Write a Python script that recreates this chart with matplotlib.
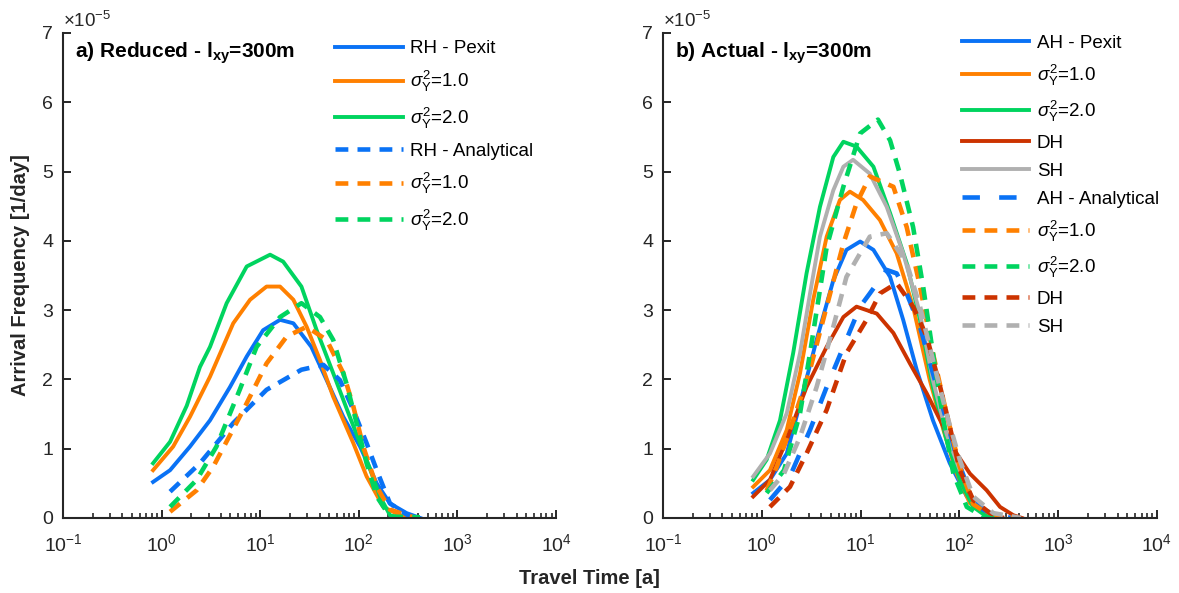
import numpy as np
import matplotlib
matplotlib.use('Agg')
import matplotlib.pyplot as plt
from matplotlib.ticker import LogLocator, NullFormatter, LogFormatterMathtext

plt.rcParams['font.family'] = ['Liberation Sans', 'DejaVu Sans']
plt.rcParams['mathtext.fontset'] = 'custom'
plt.rcParams['mathtext.rm'] = 'Liberation Sans'
plt.rcParams['mathtext.it'] = 'Liberation Sans:italic'
plt.rcParams['mathtext.bf'] = 'Liberation Sans:bold'

# values, frequency in units of 1e-5 1/day, time in years
# ---- panel a) reduced
t_rh_pexit = [0.82, 1.22, 1.94, 3.1, 4.94, 7.3, 10.7, 15.9, 21.7, 33, 47.2, 69.7, 103, 152, 207, 306, 420]
f_rh_pexit = [0.52, 0.69, 1.03, 1.41, 1.89, 2.33, 2.71, 2.86, 2.81, 2.47, 1.99, 1.46, 1.03, 0.50, 0.21, 0.07, 0.0]
t_r_s1 = [0.82, 1.31, 1.94, 3.1, 5.33, 7.9, 11.6, 15.9, 21.7, 29.6, 40.4, 55, 88, 120, 177, 263, 316]
f_r_s1 = [0.69, 1.03, 1.46, 2.04, 2.81, 3.15, 3.34, 3.34, 3.15, 2.76, 2.28, 1.75, 1.08, 0.60, 0.16, 0.04, 0.0]
t_r_s2 = [0.82, 1.22, 1.8, 2.45, 3.1, 4.57, 7.3, 12.6, 17.1, 26.2, 37.4, 55, 81, 120, 164, 207, 263]
f_r_s2 = [0.79, 1.10, 1.62, 2.18, 2.47, 3.10, 3.63, 3.80, 3.70, 3.34, 2.71, 2.09, 1.46, 0.84, 0.31, 0.04, 0.0]
t_rh_ana = [1.22, 2.45, 5.33, 11.6, 26.2, 43.7, 64.4, 88, 120, 152, 207, 306, 380]
f_rh_ana = [0.38, 0.79, 1.37, 1.85, 2.14, 2.21, 1.99, 1.56, 1.08, 0.69, 0.21, 0.05, 0.0]
t_ra_s1 = [1.22, 2.27, 3.34, 6.75, 11.6, 18.6, 29.6, 47.2, 69.7, 88, 111, 152, 207, 357]
f_ra_s1 = [0.09, 0.40, 0.74, 1.56, 2.23, 2.62, 2.76, 2.57, 2.09, 1.61, 1.03, 0.45, 0.12, 0.01]
t_ra_s2 = [1.22, 2.27, 3.6, 6.2, 9.2, 15.9, 26.2, 40.4, 55, 75, 95, 120, 152, 207, 417]
f_ra_s2 = [0.16, 0.55, 1.03, 1.85, 2.47, 2.90, 3.10, 2.90, 2.57, 1.94, 1.37, 0.79, 0.31, 0.02, 0.01]

# ---- panel b) actual
t_ah_pexit = [0.82, 1.21, 1.79, 2.44, 3.59, 5.3, 7.2, 9.9, 13.5, 19.9, 27, 37, 54, 80, 119, 174, 260]
f_ah_pexit = [0.36, 0.55, 0.93, 1.65, 2.57, 3.43, 3.87, 3.99, 3.87, 3.48, 2.86, 2.14, 1.41, 0.79, 0.31, 0.07, 0.0]
t_a_s1 = [0.82, 1.21, 1.79, 2.44, 3.32, 4.54, 6.18, 7.8, 10.6, 15.7, 23.2, 34, 50, 69, 94, 128, 189, 250]
f_a_s1 = [0.45, 0.69, 1.27, 2.09, 3.15, 4.06, 4.59, 4.71, 4.59, 4.30, 3.82, 3.05, 2.00, 1.27, 0.64, 0.21, 0.05, 0.0]
t_a_s2 = [0.82, 1.12, 1.53, 2.08, 2.84, 3.88, 5.3, 6.7, 9.1, 13.5, 19.9, 29.3, 40, 54, 74, 101, 138, 189, 240]
f_a_s2 = [0.55, 0.84, 1.41, 2.38, 3.53, 4.49, 5.21, 5.43, 5.36, 5.07, 4.40, 3.68, 2.86, 1.89, 1.13, 0.55, 0.16, 0.02, 0.0]
t_dh = [0.82, 1.21, 1.79, 2.84, 4.54, 6.7, 9.1, 14.6, 21.5, 31.6, 46.7, 64, 94, 128, 189, 258, 352, 430]
f_dh = [0.31, 0.55, 1.13, 1.89, 2.47, 2.90, 3.05, 2.95, 2.67, 2.23, 1.80, 1.41, 0.93, 0.64, 0.40, 0.16, 0.04, 0.0]
t_sh = [0.82, 1.21, 1.79, 2.44, 3.08, 3.88, 5.3, 6.7, 8.4, 12.4, 18.4, 27, 40, 54, 74, 101, 138, 204, 280]
f_sh = [0.60, 0.93, 1.51, 2.38, 3.24, 4.06, 4.73, 5.07, 5.17, 4.97, 4.49, 3.82, 2.95, 1.99, 1.22, 0.69, 0.26, 0.07, 0.0]
t_ah_ana = [1.21, 1.93, 3.08, 4.54, 6.7, 9.9, 12.4, 18.4, 23.2, 29.3, 40, 54, 74, 94, 128, 174, 258, 350]
f_ah_ana = [0.26, 0.60, 1.27, 1.89, 2.47, 3.05, 3.24, 3.58, 3.53, 3.24, 2.76, 2.09, 1.41, 0.88, 0.36, 0.12, 0.02, 0.0]
t_aa_s1 = [1.12, 1.42, 2.08, 3.08, 4.54, 6.7, 9.1, 12.4, 21.5, 29.3, 40, 54, 74, 101, 138, 204, 363]
f_aa_s1 = [0.39, 0.74, 1.41, 2.14, 3.05, 3.96, 4.54, 4.93, 4.78, 4.20, 3.34, 2.38, 1.51, 0.74, 0.20, 0.04, 0.0]
t_aa_s2 = [1.12, 1.68, 2.44, 3.08, 4.54, 6.7, 9.9, 15, 19.9, 25, 34, 43, 54, 69, 87, 119, 174, 250]
f_aa_s2 = [0.36, 0.69, 1.51, 2.38, 3.91, 4.78, 5.55, 5.75, 5.45, 4.97, 4.20, 3.34, 2.38, 1.41, 0.64, 0.16, 0.02, 0.0]
t_dh_ana = [1.21, 1.93, 2.84, 4.54, 7.2, 11.5, 15.7, 23.2, 34, 46.7, 64, 80, 101, 138, 204, 280]
f_dh_ana = [0.16, 0.45, 0.93, 1.56, 2.38, 2.86, 3.24, 3.39, 3.05, 2.62, 1.89, 1.32, 0.69, 0.26, 0.07, 0.0]
t_sh_ana = [1.21, 1.68, 2.44, 3.59, 5.3, 7.2, 12.4, 18.4, 29.3, 40, 54, 74, 101, 138, 221, 420]
f_sh_ana = [0.40, 0.64, 1.17, 1.89, 2.76, 3.48, 4.06, 4.11, 3.68, 3.05, 2.28, 1.51, 0.84, 0.31, 0.07, 0.0]

blue = '#0a72f5'
orange = '#ff8000'
green = '#00d45f'
red = '#cc3300'
gray = '#b0b0b0'
ink = '#262626'

s1 = r'$\sigma^{2}_{\mathrm{Y}}$=1.0'
s2 = r'$\sigma^{2}_{\mathrm{Y}}$=2.0'
lw = 2.8
lwd = 3.3
dash = (2.8, 2.0)

fig = plt.figure(figsize=(11.79, 5.93), dpi=100)
axA = fig.add_axes([0.0534, 0.1265, 0.4182, 0.8179])
axB = fig.add_axes([0.5623, 0.1265, 0.419, 0.8179])

# panel a
axA.plot(t_rh_pexit, f_rh_pexit, color=blue, lw=lw, label='RH - Pexit')
axA.plot(t_r_s1, f_r_s1, color=orange, lw=lw, label=s1)
axA.plot(t_r_s2, f_r_s2, color=green, lw=lw, label=s2)
axA.plot(t_rh_ana, f_rh_ana, color=blue, lw=lwd, dashes=dash, label='RH - Analytical')
axA.plot(t_ra_s1, f_ra_s1, color=orange, lw=lwd, dashes=dash, label=s1)
axA.plot(t_ra_s2, f_ra_s2, color=green, lw=lwd, dashes=dash, label=s2)

# panel b
axB.plot(t_ah_pexit, f_ah_pexit, color=blue, lw=lw, label='AH - Pexit')
axB.plot(t_a_s1, f_a_s1, color=orange, lw=lw, label=s1)
axB.plot(t_a_s2, f_a_s2, color=green, lw=lw, label=s2)
axB.plot(t_dh, f_dh, color=red, lw=lw, label='DH')
axB.plot(t_sh, f_sh, color=gray, lw=lw, label='SH')
axB.plot(t_ah_ana, f_ah_ana, color=blue, lw=lwd, dashes=(3.8, 4.2), label='AH - Analytical')
axB.plot(t_aa_s1, f_aa_s1, color=orange, lw=lwd, dashes=dash, label=s1)
axB.plot(t_aa_s2, f_aa_s2, color=green, lw=lwd, dashes=dash, label=s2)
axB.plot(t_dh_ana, f_dh_ana, color=red, lw=lwd, dashes=dash, label='DH')
axB.plot(t_sh_ana, f_sh_ana, color=gray, lw=lwd, dashes=dash, label='SH')

titles = [r'a) Reduced - l$_{\mathbf{xy}}$=300m', r'b) Actual - l$_{\mathbf{xy}}$=300m']
legpos = [(0.552, 0.985), (0.605, 0.996)]
legspace = [0.62, 0.58]
for ax, ttl, lp, ls in zip([axA, axB], titles, legpos, legspace):
    ax.set_xscale('log')
    ax.set_xlim(1e-1, 1e4)
    ax.set_ylim(0, 7)
    ax.set_yticks(range(8))
    ax.xaxis.set_major_locator(LogLocator(base=10, numticks=10))
    ax.xaxis.set_minor_locator(LogLocator(base=10, subs=np.arange(2, 10), numticks=50))
    ax.xaxis.set_major_formatter(LogFormatterMathtext())
    ax.xaxis.set_minor_formatter(NullFormatter())
    for s in ['top', 'right']:
        ax.spines[s].set_visible(False)
    for s in ['left', 'bottom']:
        ax.spines[s].set_linewidth(1.5)
        ax.spines[s].set_color(ink)
    ax.tick_params(which='major', direction='in', length=6, width=1.4, color=ink,
                   labelsize=14, labelcolor=ink)
    ax.tick_params(axis='x', which='major', pad=11)
    ax.tick_params(axis='y', which='major', pad=7)
    ax.tick_params(which='minor', direction='in', length=3.6, width=1.2, color=ink)
    ax.text(0.0, 1.005, r'$\times10^{-5}$', transform=ax.transAxes, fontsize=13.5,
            color=ink, ha='left', va='bottom')
    ax.text(0.025, 0.985, ttl, transform=ax.transAxes, fontsize=15,
            fontweight='bold', ha='left', va='top')
    ax.legend(loc='upper left', bbox_to_anchor=lp, frameon=False,
              fontsize=13.5, handlelength=3.6, handletextpad=0.4,
              labelspacing=ls, borderpad=0, borderaxespad=0)

fig.text(0.017, 0.536, 'Arrival Frequency [1/day]', rotation=90, ha='center',
         va='center', fontsize=14.5, fontweight='bold', color=ink)
fig.text(0.5, 0.025, 'Travel Time [a]', ha='center', va='center',
         fontsize=14.5, fontweight='bold', color=ink)

fig.savefig('out.png', dpi=100)
